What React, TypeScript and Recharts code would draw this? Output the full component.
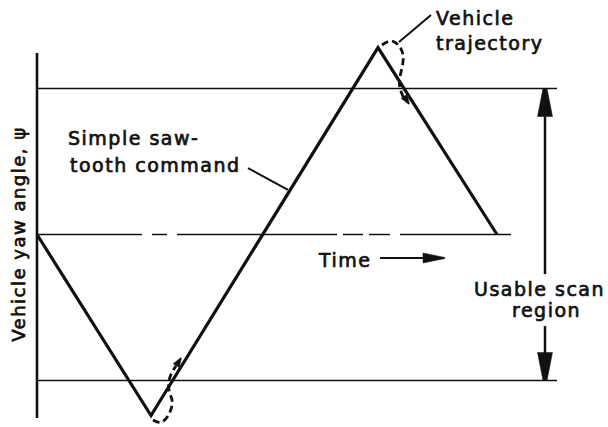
import React from 'react';
import { ComposedChart, Line, Scatter, XAxis, YAxis } from 'recharts';

type P = { x: number; y: number | null };

// Time axis in arbitrary units, yaw angle normalised to the usable scan limits (±1)
const commandX = [0, 114, 341, 460];
const commandY = [0, -1.24, 1.28, 0];
const command: P[] = commandX.map((x, i) => ({ x, y: commandY[i] }));

const upperLimit: P[] = [{ x: 0, y: 1 }, { x: 520, y: 1 }];
const lowerLimit: P[] = [{ x: 0, y: -1 }, { x: 520, y: -1 }];

// zero (time) line, drawn with breaks
const zeroSegments = [[0, 105], [115, 130], [140, 300], [306, 326], [332, 353], [363, 474]];
const zeroLine: P[] = zeroSegments.flatMap(([a, b]) => [
  { x: a, y: 0 },
  { x: b, y: 0 },
  { x: b + 0.5, y: null },
]);

const yawAxis: P[] = [{ x: 0, y: 1.243 }, { x: 0, y: -1.257 }];

// vehicle trajectory loops
const peakLoop: P[] = [
  { x: 345, y: 1.298 }, { x: 355, y: 1.325 }, { x: 364, y: 1.272 }, { x: 366, y: 1.182 },
  { x: 363, y: 1.079 }, { x: 363, y: 1.003 }, { x: 367, y: 0.93 },
];
const troughLoop: P[] = [
  { x: 116, y: -1.271 }, { x: 125, y: -1.284 }, { x: 133, y: -1.216 }, { x: 135, y: -1.134 },
  { x: 132, y: -1.065 }, { x: 133, y: -0.976 }, { x: 139, y: -0.9 },
];

// leader lines
const commandLeader: P[] = [{ x: 211, y: 0.455 }, { x: 251, y: 0.305 }];
const trajectoryLeader: P[] = [{ x: 362, y: 1.318 }, { x: 394, y: 1.503 }];

// arrows
const timeShaft: P[] = [{ x: 343, y: -0.161 }, { x: 390, y: -0.161 }];
const scanShaftUp: P[] = [{ x: 508, y: 0.81 }, { x: 508, y: -0.271 }];
const scanShaftDown: P[] = [{ x: 508, y: -0.627 }, { x: 508, y: -0.83 }];

const scanHeads = [{ x: 508, y: 1, dir: -90 }, { x: 508, y: -1, dir: 90 }];
const timeHeads = [{ x: 408, y: -0.161, dir: 0 }];
const trajectoryHeads = [{ x: 372, y: 0.894, dir: 57 }, { x: 144, y: -0.846, dir: -58 }];

const labels = [
  { x: 31, y: 0.613, text: 'Simple saw-', anchor: 'start' },
  { x: 33, y: 0.428, text: 'tooth command', anchor: 'start' },
  { x: 399, y: 1.435, text: 'Vehicle', anchor: 'start' },
  { x: 399, y: 1.264, text: 'trajectory', anchor: 'start' },
  { x: 282, y: -0.223, text: 'Time', anchor: 'start' },
  { x: 437, y: -0.421, text: 'Usable scan', anchor: 'start' },
  { x: 475, y: -0.565, text: 'region', anchor: 'start' },
];
const axisTitle = [{ x: -12, y: 0.003, text: 'Vehicle yaw angle, \u03C8' }];

const FONT = '"DejaVu Sans", "Open Sans", sans-serif';
const INK = '#111';

const arrowShape = (len: number, hw: number, tipHw: number) => (props: any) => {
  const { cx, cy, payload } = props;
  const a = (payload.dir * Math.PI) / 180;
  const ux = Math.cos(a);
  const uy = Math.sin(a);
  const bx = cx - ux * len;
  const by = cy - uy * len;
  const nx = -uy;
  const ny = ux;
  const pts = [
    [cx + nx * tipHw, cy + ny * tipHw],
    [bx + nx * hw, by + ny * hw],
    [bx - nx * hw, by - ny * hw],
    [cx - nx * tipHw, cy - ny * tipHw],
  ]
    .map((p) => `${p[0]},${p[1]}`)
    .join(' ');
  return <polygon points={pts} fill={INK} stroke={INK} strokeWidth={0.5} />;
};

const labelShape = (props: any) => {
  const { cx, cy, payload } = props;
  return (
    <text
      x={cx}
      y={cy}
      textAnchor={payload.anchor}
      fontFamily={FONT}
      fontSize={19}
      letterSpacing={1.5}
      fill={INK}
      stroke={INK}
      strokeWidth={0.7}
    >
      {payload.text}
    </text>
  );
};

const titleShape = (props: any) => {
  const { cx, cy, payload } = props;
  return (
    <text
      x={cx}
      y={cy}
      textAnchor="middle"
      transform={`rotate(-90 ${cx} ${cy})`}
      fontFamily={FONT}
      fontSize={18}
      letterSpacing={1.5}
      fill={INK}
      stroke={INK}
      strokeWidth={0.7}
    >
      {payload.text}
    </text>
  );
};

const seg = (data: P[], width: number, key: string, extra: any = {}) => (
  <Line
    key={key}
    data={data}
    dataKey="y"
    type="linear"
    stroke={INK}
    strokeWidth={width}
    dot={false}
    activeDot={false}
    connectNulls={false}
    isAnimationActive={false}
    strokeLinecap="butt"
    {...extra}
  />
);

export default function App() {
  return (
    <div style={{ position: 'absolute', left: 0, top: 0, background: '#fff' }}>
      <ComposedChart
        width={608}
        height={427}
        margin={{ top: 0.9, right: 51, bottom: 2.7, left: 0 }}
      >
        <XAxis type="number" dataKey="x" domain={[-37, 520]} hide />
        <YAxis type="number" domain={[-1.3, 1.6]} hide />
        {seg(upperLimit, 1.6, 'up')}
        {seg(lowerLimit, 1.6, 'low')}
        {seg(zeroLine, 1.6, 'zero')}
        {seg(yawAxis, 2.6, 'axis')}
        {seg(command, 3.2, 'cmd', { strokeLinejoin: 'miter' })}
        {seg(peakLoop, 2.8, 'pl', { type: 'natural', strokeDasharray: '7 4' })}
        {seg(troughLoop, 2.8, 'tl', { type: 'natural', strokeDasharray: '7 4' })}
        {seg(commandLeader, 2, 'cl')}
        {seg(trajectoryLeader, 2, 'trl')}
        {seg(timeShaft, 2, 'ts')}
        {seg(scanShaftUp, 2.5, 'su')}
        {seg(scanShaftDown, 2.5, 'sd')}
        <Scatter data={scanHeads} dataKey="y" shape={arrowShape(28, 7.5, 2)} isAnimationActive={false} />
        <Scatter data={timeHeads} dataKey="y" shape={arrowShape(22, 5, 0.5)} isAnimationActive={false} />
        <Scatter data={trajectoryHeads} dataKey="y" shape={arrowShape(9, 3.5, 0.5)} isAnimationActive={false} />
        <Scatter data={labels} dataKey="y" shape={labelShape} isAnimationActive={false} />
        <Scatter data={axisTitle} dataKey="y" shape={titleShape} isAnimationActive={false} />
      </ComposedChart>
    </div>
  );
}
